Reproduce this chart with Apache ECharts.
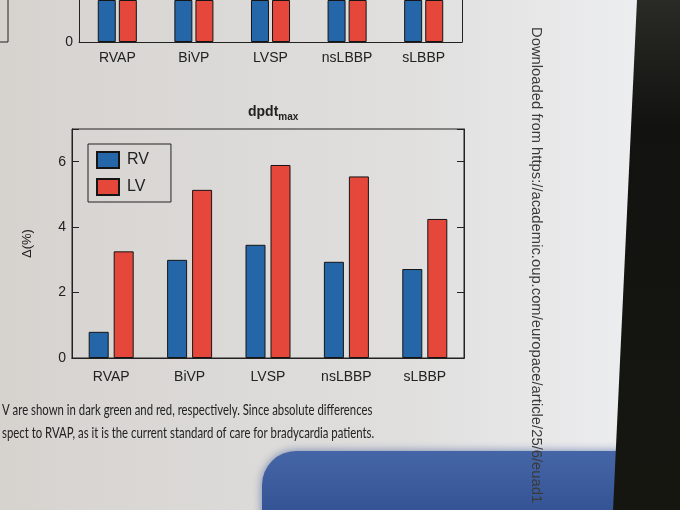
<!DOCTYPE html>
<html>
<head>
<meta charset="utf-8">
<script src="https://cdn.jsdelivr.net/npm/echarts@6/dist/echarts.min.js"></script>
<style>
  html, body { margin: 0; padding: 0; }
  #chart { width: 680px; height: 510px; }
</style>
</head>
<body>
<div id="chart"></div>
<script>
'use strict';

// --- data ---
var categories = ['RVAP', 'BiVP', 'LVSP', 'nsLBBP', 'sLBBP'];
var rvValues = [0.8, 3.0, 3.46, 2.94, 2.72];
var lvValues = [3.26, 5.14, 5.9, 5.55, 4.25];
var yTicks = [0, 2, 4, 6];

// panel above is cut by the picture's top edge, only the bottom is visible
var topRvVisible = [1, 1, 1, 1, 1];
var topLvVisible = [1, 1, 1, 1, 1];

var captionLines = [
    'V are shown in dark green and red, respectively. Since absolute differences',
    'spect to RVAP, as it is the current standard of care for bradycardia patients.'
];
var sideNote = 'Downloaded from https://academic.oup.com/europace/article/25/6/euad1';

var BLUE = '#2466a8';
var RED = '#e5483a';
var INK = '#222';

var chart = echarts.init(document.getElementById('chart'));

var option = {
    backgroundColor: {
        type: 'linear', x: 0, y: 0, x2: 1, y2: 0,
        colorStops: [
            { offset: 0, color: '#d6d3cf' },
            { offset: 0.6, color: '#e0dfde' },
            { offset: 1, color: '#eff0f3' }
        ]
    },
    animation: false,
    title: {
        text: '{a|dpdt}{b|max}',
        left: 243,
        top: 98,
        textStyle: {
            rich: {
                a: { fontFamily: 'Liberation Sans', fontWeight: 'bold', fontSize: 14, color: INK },
                b: { fontFamily: 'Liberation Sans', fontWeight: 'bold', fontSize: 10, color: INK, padding: [9, 0, 0, 0] }
            }
        }
    },
    legend: {
        data: ['RV', 'LV'],
        orient: 'vertical',
        left: 88,
        top: 144,
        padding: [7, 22, 6, 8],
        itemWidth: 22,
        itemHeight: 16,
        itemGap: 9,
        borderColor: INK,
        borderWidth: 1,
        icon: 'rect',
        textStyle: { fontFamily: 'Liberation Sans', fontSize: 16, color: INK, padding: [0, 0, 0, 3] }
    },
    grid: [
        { left: 72, right: 216, top: 129, bottom: 152, show: true, borderColor: INK, borderWidth: 1 },
        { left: 79, right: 218, top: 0, bottom: 468 }
    ],
    xAxis: [
        {
            gridIndex: 0, type: 'category', data: categories,
            axisLine: { lineStyle: { color: INK } },
            axisTick: { inside: true, alignWithLabel: true, length: 8, lineStyle: { color: INK } },
            axisLabel: { fontFamily: 'Liberation Sans', fontSize: 14, color: INK, margin: 12 }
        },
        {
            gridIndex: 0, type: 'category', data: categories, position: 'top',
            axisLine: { lineStyle: { color: INK } },
            axisTick: { inside: true, alignWithLabel: true, length: 8, lineStyle: { color: INK } },
            axisLabel: { show: false }
        },
        {
            gridIndex: 1, type: 'category', data: categories,
            axisLine: { lineStyle: { color: INK } },
            axisTick: { inside: true, alignWithLabel: true, length: 8, lineStyle: { color: INK } },
            axisLabel: { fontFamily: 'Liberation Sans', fontSize: 14, color: INK, margin: 9 }
        }
    ],
    yAxis: [
        {
            gridIndex: 0, type: 'value', min: 0, max: 7, interval: 2,
            name: 'Δ(%)', nameLocation: 'middle', nameGap: 38, nameRotate: 90,
            nameTextStyle: { fontFamily: 'Liberation Sans', fontSize: 13, color: INK },
            axisLine: { show: true, lineStyle: { color: INK } },
            axisTick: { show: true, inside: true, length: 7, lineStyle: { color: INK } },
            axisLabel: {
                fontFamily: 'Liberation Sans', fontSize: 14, color: INK, margin: 6,
                formatter: function (v) { return yTicks.indexOf(v) >= 0 ? String(v) : ''; }
            },
            splitLine: { show: false }
        },
        {
            gridIndex: 0, type: 'value', min: 0, max: 7, interval: 2, position: 'right',
            axisLine: { show: true, lineStyle: { color: INK } },
            axisTick: { show: true, inside: true, length: 7, lineStyle: { color: INK } },
            axisLabel: { show: false },
            splitLine: { show: false }
        },
        {
            gridIndex: 1, type: 'value', min: 0, max: 1, interval: 1,
            axisLine: { show: true, lineStyle: { color: INK } },
            axisTick: { show: false },
            axisLabel: {
                fontFamily: 'Liberation Sans', fontSize: 14, color: INK, margin: 6,
                formatter: function (v) { return v === 0 ? '0' : ''; }
            },
            splitLine: { show: false }
        },
        {
            gridIndex: 1, type: 'value', min: 0, max: 1, interval: 1, position: 'right',
            axisLine: { show: true, lineStyle: { color: INK } },
            axisTick: { show: false },
            axisLabel: { show: false },
            splitLine: { show: false }
        }
    ],
    series: [
        {
            name: 'RV', type: 'bar', xAxisIndex: 0, yAxisIndex: 0, data: rvValues,
            barWidth: 20, barGap: '25%',
            itemStyle: { color: BLUE, borderColor: '#151515', borderWidth: 1 }
        },
        {
            name: 'LV', type: 'bar', xAxisIndex: 0, yAxisIndex: 0, data: lvValues,
            barWidth: 20, barGap: '25%',
            itemStyle: { color: RED, borderColor: '#151515', borderWidth: 1 }
        },
        {
            name: 'RV top', type: 'bar', xAxisIndex: 2, yAxisIndex: 2, data: topRvVisible,
            barWidth: 18, barGap: '17%',
            itemStyle: { color: BLUE, borderColor: '#151515', borderWidth: 1 }
        },
        {
            name: 'LV top', type: 'bar', xAxisIndex: 2, yAxisIndex: 2, data: topLvVisible,
            barWidth: 18, barGap: '17%',
            itemStyle: { color: RED, borderColor: '#151515', borderWidth: 1 }
        }
    ],
    graphic: [
        // edge of the neighbouring panel, top left
        { type: 'polyline', shape: { points: [[8, 0], [8, 42], [0, 42]] }, style: { stroke: INK, fill: null, lineWidth: 1 } },
        // caption lines under the figure
        {
            type: 'text', left: 2, top: 402, scaleX: 0.71,
            style: { text: captionLines[0], font: '16px Lato', fill: INK }
        },
        {
            type: 'text', left: 2, top: 425, scaleX: 0.71,
            style: { text: captionLines[1], font: '16px Lato', fill: INK }
        },
        // phone shadow at the bottom
        {
            type: 'rect', z: 5,
            shape: { x: 262, y: 451, width: 362, height: 80, r: [34, 0, 0, 0] },
            style: {
                fill: {
                    type: 'linear', x: 0, y: 0, x2: 0, y2: 1,
                    colorStops: [{ offset: 0, color: '#4566a6' }, { offset: 1, color: '#2f4d8f' }]
                },
                shadowBlur: 10, shadowColor: 'rgba(40,70,140,0.6)'
            }
        },
        // dark area beyond the page
        {
            type: 'polygon', z: 6,
            shape: { points: [[637, 0], [680, 0], [680, 510], [613, 510]] },
            style: {
                fill: {
                    type: 'linear', x: 0, y: 0, x2: 0, y2: 1,
                    colorStops: [{ offset: 0, color: '#2a2a26' }, { offset: 0.25, color: '#121210' }, { offset: 1, color: '#161611' }]
                }
            }
        },
        // margin note, printed sideways
        {
            type: 'text', z: 7, x: 536, y: 27, rotation: -Math.PI / 2,
            style: { text: sideNote, font: '14.8px "Liberation Sans"', fill: '#3a3a3a', align: 'left', verticalAlign: 'middle' }
        }
    ]
};

chart.setOption(option);
</script>
</body>
</html>
